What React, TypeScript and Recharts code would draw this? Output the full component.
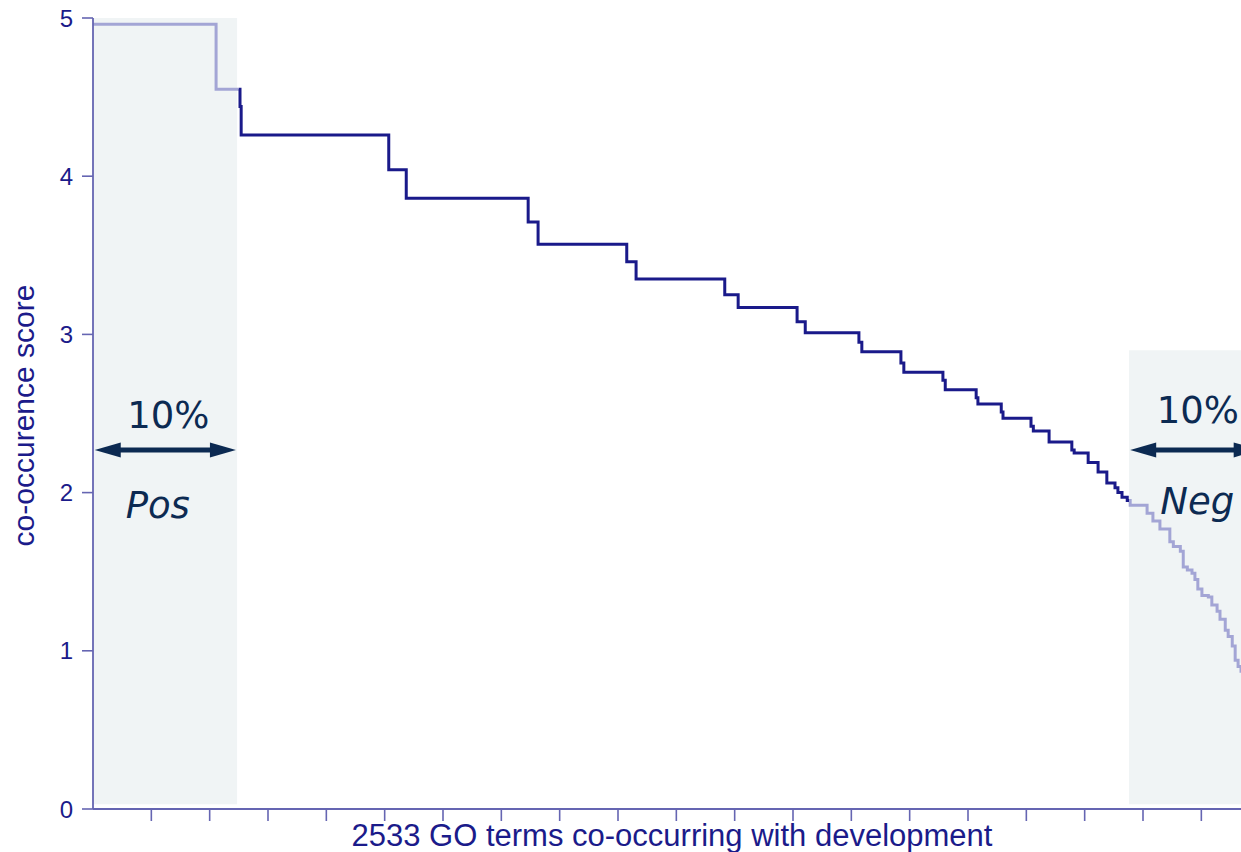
import React from 'react';
import { ComposedChart, Line, XAxis, YAxis, ReferenceArea, ReferenceLine, ReferenceDot } from 'recharts';

// Faded step curve inside the "Pos" band (rank, score)
const posRanks = [0, 211, 250];
const posScores = [4.96, 4.55, 4.55];

// Main (dark) step curve
const midRanks = [250, 252, 254, 507, 537, 746, 763, 915, 931, 1083, 1106, 1207, 1221, 1313, 1318, 1385, 1390, 1457, 1461, 1514, 1517, 1557, 1560, 1608, 1612, 1639, 1678, 1682, 1706, 1723, 1738, 1752, 1757, 1764, 1773, 1776];
const midScores = [4.55, 4.44, 4.26, 4.04, 3.86, 3.71, 3.57, 3.46, 3.35, 3.25, 3.17, 3.08, 3.01, 2.95, 2.89, 2.82, 2.76, 2.71, 2.65, 2.6, 2.56, 2.51, 2.47, 2.42, 2.39, 2.32, 2.27, 2.25, 2.19, 2.13, 2.06, 2.03, 2.0, 1.97, 1.95, 1.95];

// Faded curve inside the "Neg" band
const negRanks = [1776, 1778, 1807, 1817, 1829, 1846, 1852, 1864, 1869, 1876, 1884, 1889, 1894, 1901, 1912, 1918, 1927, 1932, 1941, 1946, 1953, 1958, 1963, 1968, 1985];
const negScores = [1.95, 1.92, 1.87, 1.82, 1.77, 1.69, 1.66, 1.63, 1.53, 1.51, 1.49, 1.45, 1.39, 1.35, 1.34, 1.29, 1.25, 1.2, 1.13, 1.09, 1.03, 0.94, 0.9, 0.87, 0.8];

const yTicks = [0, 1, 2, 3, 4, 5];
const xTicks = [100, 200, 300, 400, 500, 600, 700, 800, 900, 1000, 1100, 1200, 1300, 1400, 1500, 1600, 1700, 1800, 1900];
const xDomain = [0, 1968];
const yDomain = [0, 5];

const xAxisLabel = '2533 GO terms co-occurring with development';
const yAxisLabel = 'co-occurence score';

// Shaded bands
const posBand = { x1: 0, x2: 247, y1: 0.03, y2: 5 };
const negBand = { x1: 1776, x2: 1968, y1: 0.03, y2: 2.9 };

// Annotations
const pctLabel = '10%';
const posArrow = { from: 3, to: 245, y: 2.27 };
const negArrow = { from: 1778, to: 2000, y: 2.27 };
const posPct = { x: 129, y: 2.41 };
const negPct = { x: 1894, y: 2.44 };
const posName = { label: 'Pos', x: 111, y: 1.84 };
const negName = { label: 'Neg', x: 1893, y: 1.867 };

const toRows = (xs: number[], ys: number[]) => xs.map((x, i) => ({ rank: x, score: ys[i] }));
const posData = toRows(posRanks, posScores);
const midData = toRows(midRanks, midScores);
const negData = toRows(negRanks, negScores);

const NAVY = '#1b1b8a';
const AXIS = '#6565b2';
const DARK = '#1a1a8a';
const FADED = '#a3a5d5';
const SHADE = '#f0f4f5';
const ANNOT = '#0c2a52';

const Arrow = (p: any) => {
  const { x1, y1, x2, y2 } = p;
  const hl = 26;
  const hw = 7.5;
  const sw = 5;
  const y = y1;
  return (
    <g>
      <line x1={x1 + hl - 2} y1={y} x2={x2 - hl + 2} y2={y2} stroke={ANNOT} strokeWidth={sw} />
      <polygon points={`${x1},${y} ${x1 + hl},${y - hw} ${x1 + hl},${y + hw}`} fill={ANNOT} />
      <polygon points={`${x2},${y2} ${x2 - hl},${y2 - hw} ${x2 - hl},${y2 + hw}`} fill={ANNOT} />
    </g>
  );
};

const annotText = (text: string, italic: boolean) => (p: any) => (
  <text
    x={p.cx}
    y={p.cy}
    textAnchor="middle"
    fontFamily="'DejaVu Sans', Verdana, sans-serif"
    fontSize={37}
    fontStyle={italic ? 'italic' : 'normal'}
    fill={ANNOT}
  >
    {text}
  </text>
);

const XLabel = (props: any) => {
  const vb = props.viewBox || {};
  return (
    <text
      x={vb.x + vb.width / 2 + 5}
      y={vb.y + 37}
      textAnchor="middle"
      fontFamily="'Liberation Sans', Arial, sans-serif"
      fontSize={31}
      fill={NAVY}
    >
      {xAxisLabel}
    </text>
  );
};

const YLabel = (props: any) => {
  const vb = props.viewBox || {};
  const cx = 34;
  const cy = vb.y + vb.height / 2 + 2;
  return (
    <text
      x={cx}
      y={cy}
      transform={`rotate(-90, ${cx}, ${cy})`}
      textAnchor="middle"
      fontFamily="'Liberation Sans', Arial, sans-serif"
      fontSize={30}
      fill={NAVY}
    >
      {yAxisLabel}
    </text>
  );
};

export default function App() {
  return (
    <div style={{ position: 'fixed', left: 0, top: 0, width: 1241, height: 852, overflow: 'hidden', background: '#fff' }}>
      <ComposedChart width={1241} height={880} margin={{ top: 18, right: 0, bottom: 57, left: 0 }}>
        <XAxis
          type="number"
          dataKey="rank"
          domain={xDomain}
          allowDataOverflow
          ticks={xTicks}
          tickFormatter={() => ''}
          tickSize={12}
          height={14}
          axisLine={{ stroke: AXIS, strokeWidth: 1.8 }}
          tickLine={{ stroke: AXIS, strokeWidth: 1.6 }}
          label={<XLabel />}
        />
        <YAxis
          type="number"
          domain={yDomain}
          ticks={yTicks}
          width={93}
          tickSize={11}
          tickMargin={9}
          axisLine={{ stroke: AXIS, strokeWidth: 1.8 }}
          tickLine={{ stroke: AXIS, strokeWidth: 1.6 }}
          tick={{ fill: NAVY, fontSize: 24, fontFamily: "'Liberation Sans', Arial, sans-serif" }}
          label={<YLabel />}
        />
        <ReferenceArea x1={posBand.x1} x2={posBand.x2} y1={posBand.y1} y2={posBand.y2} fill={SHADE} fillOpacity={1} stroke="none" />
        <ReferenceArea x1={negBand.x1} x2={negBand.x2} y1={negBand.y1} y2={negBand.y2} fill={SHADE} fillOpacity={1} stroke="none" ifOverflow="visible" />
        <Line data={posData} dataKey="score" type="stepAfter" stroke={FADED} strokeWidth={3} dot={false} isAnimationActive={false} />
        <Line data={negData} dataKey="score" type="stepAfter" stroke={FADED} strokeWidth={3} dot={false} isAnimationActive={false} />
        <Line data={midData} dataKey="score" type="stepAfter" stroke={DARK} strokeWidth={3} dot={false} isAnimationActive={false} />
        <ReferenceLine segment={[{ x: posArrow.from, y: posArrow.y }, { x: posArrow.to, y: posArrow.y }]} ifOverflow="visible" shape={Arrow} />
        <ReferenceLine segment={[{ x: negArrow.from, y: negArrow.y }, { x: negArrow.to, y: negArrow.y }]} ifOverflow="visible" shape={Arrow} />
        <ReferenceDot x={posPct.x} y={posPct.y} r={0} ifOverflow="visible" shape={annotText(pctLabel, false)} />
        <ReferenceDot x={negPct.x} y={negPct.y} r={0} ifOverflow="visible" shape={annotText(pctLabel, false)} />
        <ReferenceDot x={posName.x} y={posName.y} r={0} ifOverflow="visible" shape={annotText(posName.label, true)} />
        <ReferenceDot x={negName.x} y={negName.y} r={0} ifOverflow="visible" shape={annotText(negName.label, true)} />
      </ComposedChart>
    </div>
  );
}
